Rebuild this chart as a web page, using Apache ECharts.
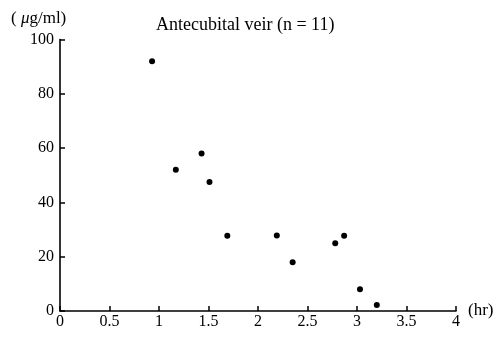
<!DOCTYPE html>
<html>
<head>
<meta charset="utf-8">
<script src="https://cdn.jsdelivr.net/npm/echarts@6/dist/echarts.min.js"></script>
<style>
html,body{margin:0;padding:0;background:#fff;}
#chart{width:501px;height:338px;}
</style>
</head>
<body>
<div id="chart"></div>
<script>
// Data
var timeHr = [0.93, 1.17, 1.43, 1.51, 1.69, 2.19, 2.35, 2.78, 2.87, 3.03, 3.20];
var concentration = [92, 52, 58, 47.5, 27.7, 27.8, 18, 25, 27.7, 8, 2.2];
var xTickLabels = ['0', '0.5', '1', '1.5', '2', '2.5', '3', '3.5', '4'];
var yTickLabels = ['0', '20', '40', '60', '80', '100'];

var points = timeHr.map(function (t, i) { return [t, concentration[i]]; });
var serif = '"Liberation Serif", "DejaVu Serif", serif';

var chart = echarts.init(document.getElementById('chart'), null, {renderer: 'canvas'});
chart.setOption({
  animation: false,
  backgroundColor: '#fff',
  title: [
    {
      text: '( {i|μ}g/ml)',
      left: 6, top: 5,
      textStyle: {
        fontFamily: serif, fontSize: 17, fontWeight: 'normal', color: '#000',
        rich: { i: { fontFamily: serif, fontSize: 17, fontStyle: 'italic', color: '#000' } }
      }
    },
    {
      text: 'Antecubital veir (n = 11)',
      left: 151, top: 11,
      textStyle: { fontFamily: serif, fontSize: 18, fontWeight: 'normal', color: '#000' }
    }
  ],
  grid: { left: 60, right: 45, top: 39.5, bottom: 27, containLabel: false },
  xAxis: {
    type: 'value', min: 0, max: 4, interval: 0.5,
    name: '(hr)', nameLocation: 'end', nameGap: 12,
    nameTextStyle: { fontFamily: serif, fontSize: 17, color: '#000', padding: [22, 0, 0, 0] },
    axisLine: { show: true, lineStyle: { color: '#000', width: 1.6 } },
    axisTick: { show: true, inside: true, length: 5, lineStyle: { color: '#000', width: 1.5 } },
    axisLabel: {
      fontFamily: serif, fontSize: 16, color: '#000', margin: 3,
      formatter: function (v) { return xTickLabels[Math.round(v / 0.5)]; }
    },
    splitLine: { show: false }
  },
  yAxis: {
    type: 'value', min: 0, max: 100, interval: 20,
    axisLine: { show: true, lineStyle: { color: '#000', width: 1.6 } },
    axisTick: { show: true, inside: true, length: 5, lineStyle: { color: '#000', width: 1.5 } },
    axisLabel: {
      fontFamily: serif, fontSize: 16, color: '#000', margin: 6,
      formatter: function (v) { return yTickLabels[Math.round(v / 20)]; }
    },
    splitLine: { show: false }
  },
  series: [{
    type: 'scatter',
    data: points,
    symbol: 'circle',
    symbolSize: 6,
    itemStyle: { color: '#000', opacity: 1 }
  }]
});
</script>
</body>
</html>
